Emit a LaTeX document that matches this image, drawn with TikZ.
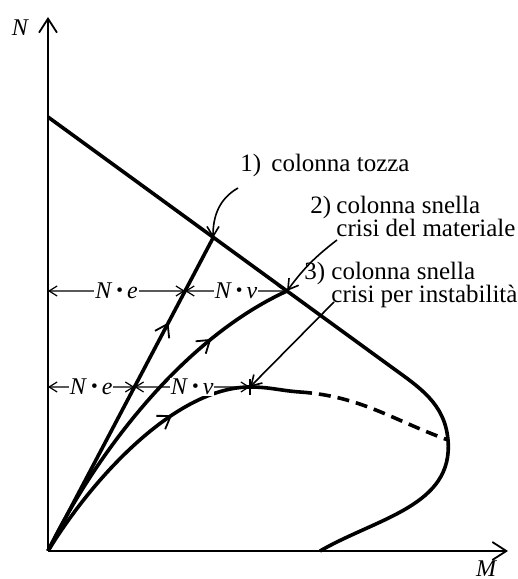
\documentclass[tikz,border=0pt]{standalone}
\usepackage{fontspec}
\setmainfont{Liberation Serif}
\usetikzlibrary{positioning,arrows.meta,calc,decorations.markings}
\tikzset{
  axis/.style={line width=1.2pt,-{Straight Barb[length=7pt,width=9pt,line width=0.9pt]}},
  dom/.style={line width=1.8pt,line join=round},
  loadpath/.style={line width=1.8pt,postaction={decorate},
    decoration={markings,mark=at position #1 with
      {\arrow{Straight Barb[length=6pt,width=8pt,line width=0.9pt]}}}},
  note/.style={line width=0.8pt,-{Straight Barb[length=5pt,width=6pt]}},
  quota/.style={line width=0.6pt,
    {Straight Barb[length=4pt,width=5pt]}-{Straight Barb[length=4pt,width=5pt]}},
  qlbl/.style={fill=white,inner sep=0.5pt,font=\fontsize{12}{12}\selectfont},
  lbl/.style={anchor=base west,inner sep=0pt,font=\fontsize{12.5}{12}\selectfont},
  axlbl/.style={inner sep=0pt,font=\fontsize{12}{12}\selectfont\itshape},
}
\newcommand{\Ndot}[1]{\textit{N}\,\raisebox{0.2ex}{\scalebox{0.8}{\textbullet}}\,\textit{#1}}

\begin{document}
\begin{tikzpicture}[x=0.5pt,y=0.5pt]
  \useasboundingbox (0,0) rectangle (518,579);
  % key points
  \coordinate (O) at (48,28);
  \coordinate (Ntop) at (48,562);
  \coordinate (Mend) at (508,28);
  \coordinate (N0) at (48,462);
  \coordinate (P1) at (213,341);
  \coordinate (P2) at (287,288);
  \coordinate (B) at (390,213);
  \coordinate (nose) at (448,139);
  \coordinate (M0) at (320,28);
  \coordinate (pk) at (250,192);
  \coordinate (d0) at (300,187);
  % axes
  \draw[axis] (O) -- (Ntop);
  \draw[axis] (O) -- (Mend);
  \node[axlbl] (lN) at (20,551) {N};
  \node[axlbl] (lM) at (486,10) {M};
  % interaction domain
  \draw[dom] (N0) -- (B) to[out=-36,in=95] (nose) to[out=-85,in=30] (M0);
  % load paths 1) 2) 3)
  \draw[loadpath=0.73] (O) -- (P1);
  \draw[loadpath=0.75] (O) .. controls (92,118) and (178,238) .. (P2);
  \draw[loadpath=0.58] (O) .. controls (95,105) and (178,192) .. (pk) to[out=0,in=176] (d0);
  \draw[dom,dash pattern=on 6pt off 3.5pt] (d0) to[out=-4,in=160] (nose);
  % second order moments
  \coordinate (e1) at (P2 -| O);
  \coordinate (e2) at (pk -| O);
  \coordinate (f1) at (intersection of O--P1 and e1--P2);
  \coordinate (f2) at (intersection of O--P1 and e2--pk);
  \draw[quota] (e1) -- node[qlbl] (q1) {\Ndot{e}} (f1);
  \draw[quota] (f1) -- node[qlbl] (q2) {\Ndot{v}} (P2);
  \draw[quota] (e2) -- node[qlbl] (q3) {\Ndot{e}} (f2);
  \draw[quota] (f2) -- node[qlbl] (q4) {\Ndot{v}} (pk);
  \draw[line width=0.8pt] ($(pk)+(0,-8)$) -- ($(pk)+(0,8)$);
  % labels
  \node[lbl] (n1) at (240,407) {1)};
  \node[lbl] (t1) at (271,407) {colonna tozza};
  \node[lbl] (n2) at (310,365) {2)};
  \node[lbl] (t2) at (336,365) {colonna snella};
  \node[lbl] (t2b) at (336,342) {crisi del materiale};
  \node[lbl] (n3) at (304,299) {3)};
  \node[lbl] (t3) at (331,299) {colonna snella};
  \node[lbl] (t3b) at (331,276) {crisi per instabilità};
  % pointers
  \coordinate (a1) at (238,391);
  \coordinate (a2) at (337,339);
  \coordinate (a3) at (334,277);
  \draw[note] (a1) to[out=210,in=90] (P1);
  \draw[note] (a2) to[bend right=8] (P2);
  \draw[note] (a3) -- (pk);
\end{tikzpicture}
\end{document}
